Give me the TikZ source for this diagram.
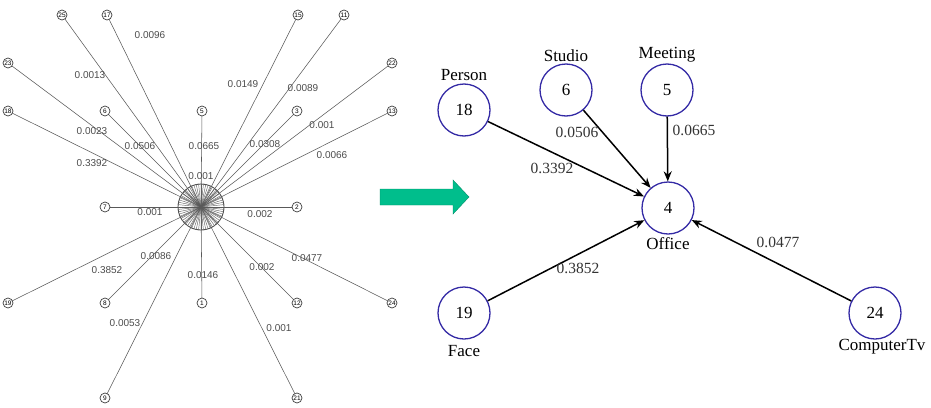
\documentclass[tikz,border=0pt]{standalone}
\usepackage{fontspec}
\setmainfont{Liberation Serif}
\setsansfont{Liberation Sans}
\usepackage{xcolor}
\usetikzlibrary{arrows.meta,positioning}
\definecolor{ringblue}{RGB}{52,42,165}
\definecolor{gogreen}{RGB}{0,190,140}

\begin{document}
\begin{tikzpicture}[x=1pt, y=-1pt,
  >={Stealth[length=10pt, width=8pt]},
  snode/.style={circle, draw=black!75, fill=white, line width=0.7pt, inner sep=0pt, minimum size=10pt,
                font=\sffamily\fontsize{6.5}{6.5}\selectfont},
  spoke/.style={black!65, line width=0.55pt},
  wlab/.style={font=\sffamily\fontsize{10}{10}\selectfont, text=black!70, inner sep=1pt},
  cnode/.style={circle, draw=ringblue, line width=1.3pt, minimum size=52pt, inner sep=0pt,
                font=\fontsize{17}{17}\selectfont},
  tag/.style={font=\fontsize{17}{17}\selectfont, inner sep=2pt},
  lab/.style={font=\fontsize{15.5}{16}\selectfont, text=black!80, inner sep=1pt},
  flow/.style={->, line width=1.5pt},
]
\useasboundingbox (0,0) rectangle (931,407);
% left: the full star
\node[circle, draw=black!75, line width=0.8pt, minimum size=46pt, inner sep=0pt] (hub) at (201,207) {};
\foreach \a in {0,6,...,354} \draw[black!60, line width=0.45pt] (hub.center) -- (hub.\a);
\foreach \n/\x/\y/\w/\lx/\ly in {25/62/15/0.0013/90/75, 17/107/15/0.0096/150/35, 23/8/63/0.0023/92/131,
    18/8/111/0.3392/92/163, 6/105/111/0.0506/140/146, 5/202/111/0.0665/204/146,
    15/298/15/0.0149/243/84, 11/344/15/0.0089/303/88, 3/297/111/0.0308/265/144,
    22/392/63/0.001/322/125, 13/392/111/0.0066/332/155, 7/105/207/0.001/150/212,
    2/297/207/0.002/260/214, 19/8/303/0.3852/107/270, 8/105/303/0.0086/156/256,
    1/202/303/0.0146/203/275, 12/297/303/0.002/262/267, 24/392/303/0.0477/307/258,
    9/105/398/0.0053/125/323, 21/297/398/0.001/279/328} {
  \draw[spoke] (hub.center) -- (\x,\y);
  \node[snode] (s\n) at (\x,\y) {\n};
  \node[wlab] (w\n) at (\lx,\ly) {\w};
}
\node[wlab] (whub) at (201,176) {0.001};
% arrow between the two graphs
\fill[gogreen, draw=gogreen!75!black, line width=0.4pt] (380,189) -- (453,189) -- (453,180) -- (469,197)
  -- (453,214) -- (453,205) -- (380,205) -- cycle;
% right: the kept neighbours of Office
\node[cnode] (n4) at (668,208) {4};
\node[cnode] (n18) at (464,110) {18};
\node[cnode] (n6) at (566,90) {6};
\node[cnode] (n5) at (667,90) {5};
\node[cnode] (n19) at (464,313) {19};
\node[cnode] (n24) at (875,313) {24};
\node[tag, above=0pt of n18] (t18) {Person};
\node[tag, above=-1pt of n6] (t6) {Studio};
\node[tag, above=-1pt of n5] (t5) {Meeting};
\node[tag, below=1pt of n4] (t4) {Office};
\node[tag, below=4pt of n19] (t19) {Face};
\node[tag, below=-3pt of n24, xshift=7pt] (t24) {ComputerTv};
\draw[flow] (n18) -- (n4);
\draw[flow] (n6) -- (n4);
\draw[flow] (n5) -- (n4);
\draw[flow] (n19) -- (n4);
\draw[flow] (n24) -- (n4);
\node[lab] (l18) at (552,168) {0.3392};
\node[lab] (l6) at (577,132) {0.0506};
\node[lab] (l5) at (694,130) {0.0665};
\node[lab] (l19) at (578,268) {0.3852};
\node[lab] (l24) at (778,242) {0.0477};
\end{tikzpicture}
\end{document}
